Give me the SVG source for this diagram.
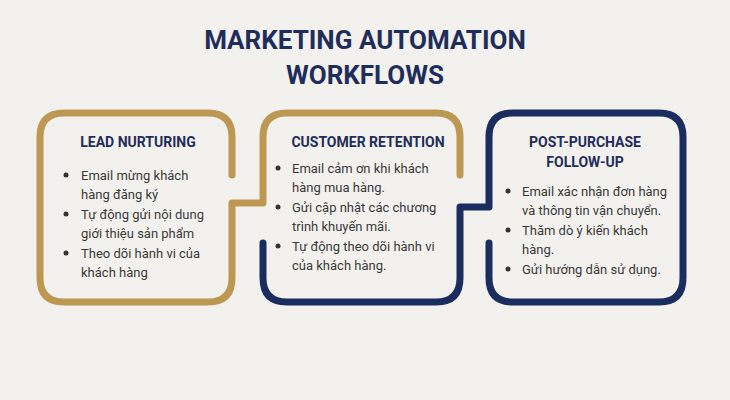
<svg xmlns="http://www.w3.org/2000/svg" width="730" height="400" viewBox="0 0 730 400">
<style>
.t{font-family:Roboto,"Liberation Sans",sans-serif;font-weight:bold;fill:#1f2d5a;text-anchor:middle}
.h{font-family:Roboto,"Liberation Sans",sans-serif;font-weight:bold;font-size:14px;fill:#1f2d5a;text-anchor:middle}
.b{font-family:Roboto,"Liberation Sans",sans-serif;font-size:13px;fill:#3a3a3a}
.g{fill:none;stroke:#bc9852;stroke-width:7;stroke-linecap:round;stroke-linejoin:round}
.n{fill:none;stroke:#1b2c5e;stroke-width:7;stroke-linecap:round;stroke-linejoin:round}
</style>
<rect width="730" height="400" fill="#f3f1ee"/>
<text class="t" x="365" y="49" font-size="26">MARKETING AUTOMATION</text>
<text class="t" x="365" y="84" font-size="26">WORKFLOWS</text>
<g id="connectors">
<path class="g" d="M232,175 V137 Q232,113 208,113 H64 Q40,113 40,137 V278 Q40,302 64,302 H208 Q232,302 232,278 V203 H263 V137 Q263,113 287,113 H436 Q460,113 460,137 V175"/>
<path class="n" d="M263,243 V278 Q263,302 287,302 H436 Q460,302 460,278 V207 H489 V137 Q489,113 513,113 H659 Q683,113 683,137 V278 Q683,302 659,302 H513 Q489,302 489,278 V243"/>
</g>
<g id="lead">
<text class="h" x="138" y="147">LEAD NURTURING</text>
<g class="b"><text x="81" y="180">Email mừng khách</text><text x="81" y="199">hàng đăng ký</text><text x="81" y="219">Tự động gửi nội dung</text><text x="81" y="238">giới thiệu sản phẩm</text><text x="81" y="258">Theo dõi hành vi của</text><text x="81" y="277">khách hàng</text></g>
<g fill="#333"><circle cx="66" cy="175" r="2.5"/><circle cx="66" cy="214" r="2.5"/><circle cx="66" cy="253" r="2.5"/></g>
</g>
<g id="retention">
<text class="h" x="368" y="147">CUSTOMER RETENTION</text>
<g class="b"><text x="292" y="173">Email cảm ơn khi khách</text><text x="292" y="192">hàng mua hàng.</text><text x="292" y="212">Gửi cập nhật các chương</text><text x="292" y="231">trình khuyến mãi.</text><text x="292" y="251">Tự động theo dõi hành vi</text><text x="292" y="270">của khách hàng.</text></g>
<g fill="#333"><circle cx="278" cy="168" r="2.5"/><circle cx="278" cy="207" r="2.5"/><circle cx="278" cy="246" r="2.5"/></g>
</g>
<g id="postpurchase">
<text class="h" x="585" y="147">POST-PURCHASE</text>
<text class="h" x="585" y="167">FOLLOW-UP</text>
<g class="b"><text x="522" y="196">Email xác nhận đơn hàng</text><text x="522" y="215">và thông tin vận chuyển.</text><text x="522" y="235">Thăm dò ý kiến khách</text><text x="522" y="254">hàng.</text><text x="522" y="274">Gửi hướng dẫn sử dụng.</text></g>
<g fill="#333"><circle cx="508" cy="191" r="2.5"/><circle cx="508" cy="230" r="2.5"/><circle cx="508" cy="269" r="2.5"/></g>
</g>
</svg>
